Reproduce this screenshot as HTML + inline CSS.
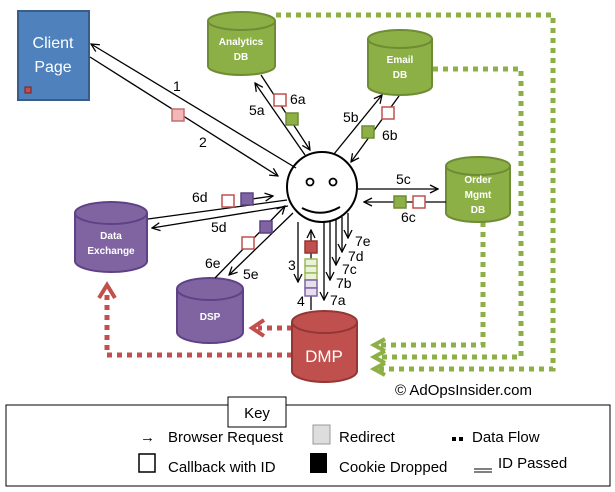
<!DOCTYPE html>
<html><head><meta charset="utf-8"><style>
html,body{margin:0;padding:0;background:#fff}
svg{display:block;font-family:"Liberation Sans",sans-serif}
</style></head><body>
<svg width="615" height="492" viewBox="0 0 615 492" xmlns="http://www.w3.org/2000/svg">
<defs>
<marker id="a" markerWidth="10" markerHeight="10" refX="9" refY="5" orient="auto" markerUnits="userSpaceOnUse"><path d="M1,1 L9,5 L1,9" fill="none" stroke="#000" stroke-width="1.3"/></marker>
</defs>
<g fill="none" stroke="#8db046" stroke-width="5" stroke-dasharray="5,5">
<path d="M276,15 H553 V369 H378"/>
<path d="M433,69 H521 V357 H378"/>
<path d="M483,222 V345 H378"/>
</g>
<g fill="none" stroke="#8db046" stroke-width="4">
<path d="M385,339 L374,345 L385,351"/>
<path d="M385,351 L374,357 L385,363"/>
<path d="M385,363 L374,369 L385,375"/>
</g>
<g fill="none" stroke="#c0504d" stroke-width="5" stroke-dasharray="5,5">
<path d="M292,355 H107 V290"/>
<path d="M292,328 H258"/>
</g>
<g fill="none" stroke="#c0504d" stroke-width="4">
<path d="M99,298 L107,285 L115,298"/>
<path d="M264,320 L252,328 L264,336"/>
</g>
<rect x="18" y="11" width="71" height="89" fill="#4f81bd" stroke="#385d8a" stroke-width="2"/>
<text x="53" y="48" fill="#fff" font-size="16" text-anchor="middle">Client</text>
<text x="53" y="72" fill="#fff" font-size="16" text-anchor="middle">Page</text>
<rect x="25" y="87" width="6" height="6" fill="#c0504d" stroke="#7a2020"/>
<g stroke-width="2">
<g fill="#8db046" stroke="#6e8c34">
<path d="M208,21 V66 A33.5,9 0 0 0 275,66 V21"/><ellipse cx="241.5" cy="21" rx="33.5" ry="9"/>
<path d="M368,39 V86 A32,9 0 0 0 432,86 V39"/><ellipse cx="400" cy="39" rx="32" ry="9"/>
<path d="M446,166 V213 A32,9 0 0 0 510,213 V166"/><ellipse cx="478" cy="166" rx="32" ry="9"/>
</g>
<g fill="#8064a2" stroke="#5e4285">
<path d="M75,213 V261 A36,11 0 0 0 147,261 V213"/><ellipse cx="111" cy="213" rx="36" ry="11"/>
<path d="M177,289 V332 A33,11 0 0 0 243,332 V289"/><ellipse cx="210" cy="289" rx="33" ry="11"/>
</g>
<g fill="#c0504d" stroke="#943634">
<path d="M292,322 V371 A32.5,11 0 0 0 357,371 V322"/><ellipse cx="324.5" cy="322" rx="32.5" ry="11"/>
</g>
</g>
<g fill="#fff" font-weight="bold" font-size="10" text-anchor="middle">
<text x="241" y="45">Analytics</text><text x="241" y="60">DB</text>
<text x="400" y="63">Email</text><text x="400" y="78">DB</text>
<text x="478" y="183">Order</text><text x="478" y="198">Mgmt</text><text x="478" y="213">DB</text>
<text x="111" y="239">Data</text><text x="111" y="254">Exchange</text>
<text x="210" y="320">DSP</text>
</g>
<text x="324" y="362" fill="#fff" font-size="17" text-anchor="middle">DMP</text>
<circle cx="322" cy="187" r="35" fill="#fff" stroke="#000" stroke-width="2"/>
<circle cx="310" cy="182" r="3.5" fill="none" stroke="#000" stroke-width="1.8"/>
<circle cx="333" cy="182" r="3.5" fill="none" stroke="#000" stroke-width="1.8"/>
<path d="M302,208 Q321,218 340,207" fill="none" stroke="#000" stroke-width="2"/>
<g stroke="#000" stroke-width="1.3" fill="none">
<path d="M296,168 L91,44" marker-end="url(#a)"/>
<path d="M90,57 L278,176" marker-end="url(#a)"/>
<path d="M305,155 L255,83" marker-end="url(#a)"/>
<path d="M261,75 L310,150" marker-end="url(#a)"/>
<path d="M334,154 L382,95" marker-end="url(#a)"/>
<path d="M399,96 L351,162" marker-end="url(#a)"/>
<path d="M358,189 L438,189" marker-end="url(#a)"/>
<path d="M446,202 L364,202" marker-end="url(#a)"/>
<path d="M148,219 L287,200"/>
<path d="M252,199 L273,196" marker-end="url(#a)"/>
<path d="M288,206 L152,228" marker-end="url(#a)"/>
<path d="M293,213 L229,275" marker-end="url(#a)"/>
<path d="M215,278 L285,206" marker-end="url(#a)"/>
<path d="M298,222 L298,282" marker-end="url(#a)"/>
<path d="M311,310 L311,230" marker-end="url(#a)"/>
<path d="M324,222 V300" marker-end="url(#a)"/>
<path d="M330,222 V280" marker-end="url(#a)"/>
<path d="M336,220 V265" marker-end="url(#a)"/>
<path d="M342,217 V252" marker-end="url(#a)"/>
<path d="M348,213 V238" marker-end="url(#a)"/>
</g>
<g stroke-width="1.5">
<rect x="172" y="109" width="12" height="12" fill="#f4b6b6" stroke="#c07070"/>
<rect x="274" y="94" width="12" height="12" fill="#fff" stroke="#c0504d"/>
<rect x="286" y="113" width="12" height="12" fill="#8db046" stroke="#6e8c34"/>
<rect x="382" y="107" width="12" height="12" fill="#fff" stroke="#c0504d"/>
<rect x="362" y="126" width="12" height="12" fill="#8db046" stroke="#6e8c34"/>
<rect x="394" y="196" width="12" height="12" fill="#8db046" stroke="#6e8c34"/>
<rect x="413" y="196" width="12" height="12" fill="#fff" stroke="#c0504d"/>
<rect x="222" y="195" width="12" height="12" fill="#fff" stroke="#c0504d"/>
<rect x="241" y="193" width="12" height="12" fill="#8064a2" stroke="#5e4285"/>
<rect x="242" y="237" width="12" height="12" fill="#fff" stroke="#c0504d"/>
<rect x="260" y="221" width="12" height="12" fill="#8064a2" stroke="#5e4285"/>
<rect x="305" y="241" width="12" height="12" fill="#c0504d" stroke="#943634"/>
<rect x="305" y="259" width="12" height="7" fill="#ebf1dd" stroke="#9bbb59"/>
<rect x="305" y="266" width="12" height="7" fill="#ebf1dd" stroke="#9bbb59"/>
<rect x="305" y="273" width="12" height="7" fill="#ebf1dd" stroke="#9bbb59"/>
<rect x="305" y="280" width="12" height="8" fill="#e5e0ec" stroke="#8064a2"/>
<rect x="305" y="288" width="12" height="8" fill="#e5e0ec" stroke="#8064a2"/>
</g>
<g font-size="14" fill="#000">
<text x="173" y="91">1</text><text x="199" y="147">2</text>
<text x="249" y="115">5a</text><text x="290" y="104">6a</text>
<text x="343" y="122">5b</text><text x="382" y="140">6b</text>
<text x="396" y="184">5c</text><text x="401" y="222">6c</text>
<text x="192" y="202">6d</text><text x="211" y="232">5d</text>
<text x="205" y="268">6e</text><text x="243" y="279">5e</text>
<text x="288" y="270">3</text><text x="297" y="306">4</text>
<text x="330" y="305">7a</text><text x="336" y="288">7b</text><text x="342" y="274">7c</text><text x="348" y="261">7d</text><text x="355" y="246">7e</text>
<text x="395" y="395" font-size="15">© AdOpsInsider.com</text>
</g>
<rect x="6" y="405" width="604" height="81" fill="#fff" stroke="#000" stroke-width="1"/>
<rect x="228" y="397" width="58" height="30" fill="#fff" stroke="#000" stroke-width="1"/>
<text x="257" y="418" font-size="15" text-anchor="middle">Key</text>
<g font-size="15">
<text x="140" y="442">→</text>
<text x="168" y="442">Browser Request</text>
<rect x="313" y="425" width="17" height="19" fill="#ddd" stroke="#999" stroke-width="1"/>
<text x="339" y="442">Redirect</text>
<rect x="452" y="437" width="4" height="4" fill="#000"/><rect x="459" y="437" width="4" height="4" fill="#000"/>
<text x="472" y="442">Data Flow</text>
<rect x="139" y="454" width="16" height="18" fill="#fff" stroke="#000" stroke-width="1.5"/>
<text x="168" y="472">Callback with ID</text>
<rect x="310" y="453" width="17" height="20" fill="#000"/>
<text x="339" y="472">Cookie Dropped</text>
<path d="M474,469 H492 M474,472 H492" stroke="#000" stroke-width="1"/>
<text x="498" y="468">ID Passed</text>
</g>
</svg>
</body></html>
